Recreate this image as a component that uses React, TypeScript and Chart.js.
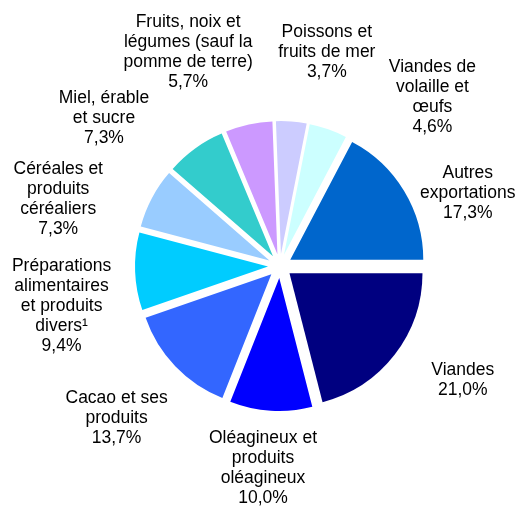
import React, { useEffect, useRef } from "react";
import { Chart, registerables } from "chart.js";

Chart.register(...registerables);

// ---- Data (clockwise from 3 o'clock) ----
const categories: string[] = [
  "Viandes",
  "Oléagineux et\nproduits\noléagineux",
  "Cacao et ses\nproduits",
  "Préparations\nalimentaires\net produits\ndivers¹",
  "Céréales et\nproduits\ncéréaliers",
  "Miel, érable\net sucre",
  "Fruits, noix et\nlégumes (sauf la\npomme de terre)",
  "Poissons et\nfruits de mer",
  "Viandes de\nvolaille et\nœufs",
  "Autres\nexportations",
];
const values: number[] = [21.0, 10.0, 13.7, 9.4, 7.3, 7.3, 5.7, 3.7, 4.6, 17.3];
const colors: string[] = [
  "#000080",
  "#0000FF",
  "#3366FF",
  "#00CCFF",
  "#99CCFF",
  "#33CCCC",
  "#CC99FF",
  "#CCCCFF",
  "#CCFFFF",
  "#0066CC",
];

// label placement fine-tuning (pixels), Excel "best fit" style
const labelNudges: [number, number][] = [
  [37, 8],
  [-4, 10],
  [-16, 26],
  [-16, 33],
  [-47, 23],
  [-60, 1],
  [-45, -25],
  [31, -31],
  [87, 13],
  [16, 22],
];

const fmtPct = (v: number) => v.toFixed(1).replace(".", ",") + "%";

const EXPLODE = 12;

const explodePlugin = {
  id: "explodeSlices",
  beforeDatasetDraw(chart: any, args: any) {
    const ctx = chart.ctx;
    args.meta.data.forEach((arc: any) => {
      const { startAngle, endAngle } = arc.getProps(["startAngle", "endAngle"], true);
      const mid = (startAngle + endAngle) / 2;
      ctx.save();
      ctx.translate(Math.cos(mid) * EXPLODE, Math.sin(mid) * EXPLODE);
      arc.draw(ctx);
      ctx.restore();
    });
    return false;
  },
};

const outsideLabelsPlugin = {
  id: "outsideLabels",
  afterDatasetsDraw(chart: any) {
    const meta = chart.getDatasetMeta(0);
    const ctx = chart.ctx;
    const fontSize = 17.5;
    const lineHeight = 20;
    ctx.save();
    ctx.font = `${fontSize}px "Liberation Sans", Arial, sans-serif`;
    ctx.fillStyle = "#000000";
    ctx.textAlign = "center";
    ctx.textBaseline = "middle";
    meta.data.forEach((arc: any, i: number) => {
      const { x, y, startAngle, endAngle, outerRadius } = arc.getProps(
        ["x", "y", "startAngle", "endAngle", "outerRadius"],
        true
      );
      const mid = (startAngle + endAngle) / 2;
      const lines = [...categories[i].split("\n"), fmtPct(values[i])];
      const w = Math.max(...lines.map((l) => ctx.measureText(l).width));
      const h = lines.length * lineHeight;
      const r = outerRadius + EXPLODE + 8;
      const px = x + Math.cos(mid) * r;
      const py = y + Math.sin(mid) * r;
      const cx = px + (Math.cos(mid) * w) / 2 + labelNudges[i][0];
      const cy = py + (Math.sin(mid) * h) / 2 + labelNudges[i][1];
      const top = cy - h / 2 + lineHeight / 2;
      lines.forEach((line, k) => {
        ctx.fillText(line, cx, top + k * lineHeight);
      });
    });
    ctx.restore();
  },
};

export default function App() {
  const canvasRef = useRef<HTMLCanvasElement | null>(null);

  useEffect(() => {
    document.body.style.margin = "0";
    const canvas = canvasRef.current;
    if (!canvas) return;
    const chart = new Chart(canvas, {
      type: "pie",
      data: {
        labels: categories.map((c) => c.replace(/\n/g, " ")),
        datasets: [
          {
            data: values,
            backgroundColor: colors,
            borderWidth: 0,
          },
        ],
      },
      options: {
        responsive: false,
        animation: false,
        devicePixelRatio: 1,
        rotation: 90,
        layout: {
          padding: { left: 147, right: 106, top: 133, bottom: 107 },
        },
        plugins: {
          legend: { display: false },
          tooltip: { enabled: false },
        },
      },
      plugins: [explodePlugin, outsideLabelsPlugin],
    });
    return () => chart.destroy();
  }, []);

  return (
    <div style={{ position: "absolute", left: 0, top: 0, width: 519, height: 506, background: "#fff" }}>
      <canvas ref={canvasRef} width={519} height={506} />
    </div>
  );
}
